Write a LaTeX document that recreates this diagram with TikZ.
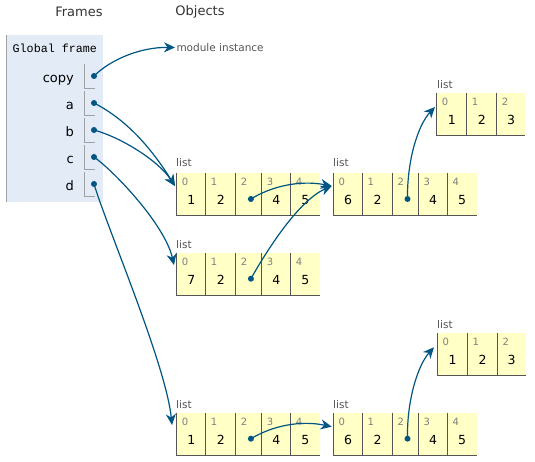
\documentclass[tikz,border=0pt]{standalone}
\usepackage{fontspec}
\setmainfont{DejaVu Sans}
\newfontfamily\monof{Liberation Mono}
\usetikzlibrary{arrows.meta,calc}
\definecolor{arrowc}{HTML}{005583}
\definecolor{framebg}{HTML}{E2EBF6}
\definecolor{cellbg}{HTML}{FFFFC6}
\definecolor{edgec}{HTML}{555555}
\definecolor{idxc}{HTML}{808080}
\definecolor{labc}{HTML}{555555}
\definecolor{headc}{HTML}{333333}
\definecolor{brackc}{HTML}{A0A0A0}
\tikzset{
  cellbox/.style={fill=cellbg, inner sep=0pt, minimum height=42pt},
  celledge/.style={draw=edgec, line width=1.1pt},
  idx/.style={inner sep=0pt, anchor=west, text=idxc, font=\fontsize{10}{11}\selectfont},
  val/.style={inner sep=0pt, font=\fontsize{12.5}{14}\selectfont},
  typelab/.style={inner sep=0pt, anchor=west, text=labc, font=\fontsize{10.5}{12}\selectfont},
  head/.style={inner sep=0pt, text=headc, font=\fontsize{13}{15}\selectfont},
  varname/.style={inner sep=0pt, anchor=base east, font=\fontsize{13}{15}\selectfont},
  ptrdot/.style={circle, fill=arrowc, inner sep=0pt, minimum size=6pt},
  ptr/.style={draw=arrowc, line width=1.2pt, -{Stealth[length=11pt,width=10pt,inset=3.5pt]}},
  brack/.style={draw=brackc, line width=0.9pt},
}
% name, left x, top y, width, index, value
\newcommand\mkcell[6]{%
  \node[cellbox, minimum width=#4pt, anchor=north west] (#1) at (#2,#3) {};
  \draw[celledge] (#1.north west) -- (#1.south west) -- (#1.south east);
  \node[idx] (#1i) at ($(#1.north west)+(5,9)$) {#5};
  \node[val] (#1v) at ($(#1.north)+(0,27)$) {#6};}
% five-cell list: prefix,left,top,v0,v1,v3,v4  (widths 29,30,26,29,29)
\newcommand\listA[7]{%
  \mkcell{#1c0}{#2}{#3}{29}{0}{#4}
  \mkcell{#1c1}{#2+29}{#3}{30}{1}{#5}
  \mkcell{#1c2}{#2+59}{#3}{26}{2}{}
  \mkcell{#1c3}{#2+85}{#3}{29}{3}{#6}
  \mkcell{#1c4}{#2+114}{#3}{29}{4}{#7}}
\begin{document}
\begin{tikzpicture}[x=1pt,y=-1pt]
\useasboundingbox (0,0) rectangle (535,462);
% headers
\node[head] (hframes) at (79,12) {Frames};
\node[head] (hobjects) at (200,12) {Objects};
% global frame
\node[fill=framebg, inner sep=0pt, minimum width=96pt, minimum height=167pt, anchor=north west] (gframe) at (6.7,35) {};
\draw[draw=brackc, line width=1.5pt] (gframe.north west) -- (gframe.south west);
\node[inner sep=0pt, anchor=west, font=\monof\fontsize{11.7}{13}\selectfont] (gtitle) at (12.5,48.5) {Global frame};
\foreach \nm/\yy [count=\i from 0] in {copy/82.5,a/109.5,b/136.5,c/163.5,d/190.5}{
  \node[varname] (v\i) at (74,\yy) {\nm};
  \draw[brack] (84.7,64+27*\i) -- (84.7,88+27*\i) -- (95,88+27*\i);
  \node[ptrdot] (p\i) at (94,76+27*\i) {};
}
% module instance
\node[typelab] (mod) at (176.3,48) {module instance};
\coordinate (tMod) at (175,47.5);
% lists
\node[typelab] (lab1) at (176,163) {list};
\listA{La}{176.7}{173}{1}{2}{4}{5}
\node[typelab] (lab2) at (333,163) {list};
\listA{Lb}{333.3}{173}{6}{2}{4}{5}
\node[typelab] (lab3) at (176,245) {list};
\listA{Lc}{176.7}{252.7}{7}{2}{4}{5}
\node[typelab] (lab4) at (437,85) {list};
\mkcell{Rac0}{436.7}{92.7}{30}{0}{1}
\mkcell{Rac1}{466.7}{92.7}{30}{1}{2}
\mkcell{Rac2}{496.7}{92.7}{28.3}{2}{3}
\node[typelab] (lab5) at (176,405) {list};
\listA{Ld}{176.7}{412.7}{1}{2}{4}{5}
\node[typelab] (lab6) at (333,405) {list};
\listA{Le}{333.3}{412.7}{6}{2}{4}{5}
\node[typelab] (lab7) at (437,325) {list};
\mkcell{Rbc0}{437.3}{332.7}{30}{0}{1}
\mkcell{Rbc1}{467.3}{332.7}{30}{1}{2}
\mkcell{Rbc2}{497.3}{332.7}{28}{2}{3}
% pointer dots inside lists
\node[ptrdot] (da) at ($(Lac2.north)+(2,26)$) {};
\node[ptrdot] (db) at ($(Lbc2.north)+(2,26)$) {};
\node[ptrdot] (dc) at ($(Lcc2.north)+(2,26)$) {};
\node[ptrdot] (dd) at ($(Ldc2.north)+(2,26)$) {};
\node[ptrdot] (de) at ($(Lec2.north)+(2,26)$) {};
% targets
\coordinate (tLa) at (175,186);
\coordinate (tLc) at (174,265);
\coordinate (tLd) at (172,425);
\coordinate (tLb) at (331.7,186);
\coordinate (tRa) at (435,107);
\coordinate (tLe) at (331.7,426.7);
\coordinate (tRb) at (434,347.3);
% connectors
\draw[ptr] (p0.center) .. controls (110,60) and (140,47) .. (tMod);
\draw[ptr] (p1.center) .. controls (129,121) and (153,151) .. (tLa);
\draw[ptr] (p2.center) .. controls (120,137) and (158,160) .. (tLa);
\draw[ptr] (p3.center) .. controls (115,172) and (165,225) .. (tLc);
\draw[ptr] (p4.center) .. controls (108,230) and (166,365) .. (tLd);
\draw[ptr] (da.center) .. controls (272,186) and (300,180) .. (tLb);
\draw[ptr] (dc.center) .. controls (270,245) and (300,200) .. (tLb);
\draw[ptr] (db.center) .. controls (407,160) and (418,125) .. (tRa);
\draw[ptr] (dd.center) .. controls (272,426) and (300,420) .. (tLe);
\draw[ptr] (de.center) .. controls (406.7,400) and (418,365) .. (tRb);
\end{tikzpicture}
\end{document}
